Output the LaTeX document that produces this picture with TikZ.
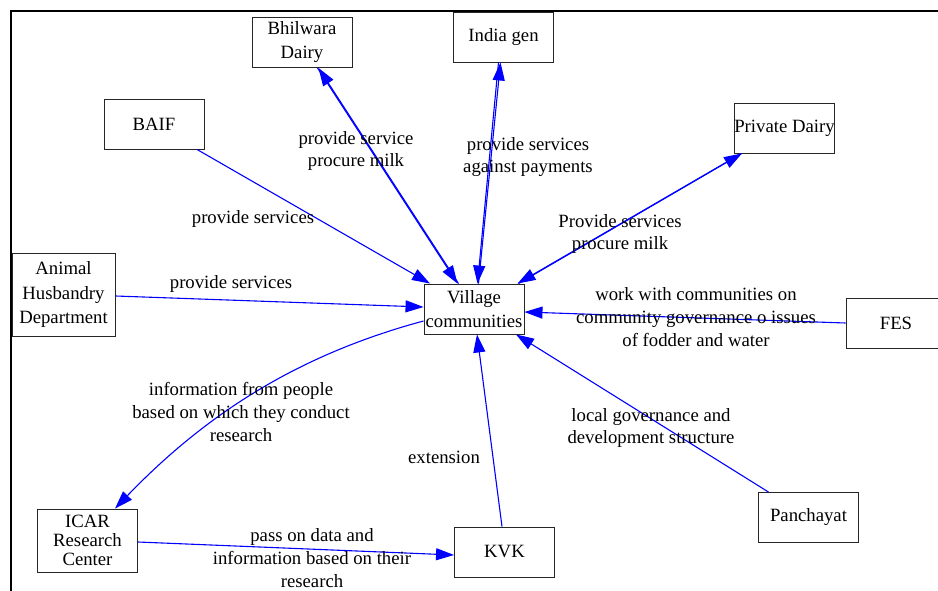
\documentclass[tikz,border=0pt]{standalone}
\usepackage{fontspec}
\setmainfont{Liberation Serif}
\usetikzlibrary{arrows.meta}

\begin{document}
\begin{tikzpicture}[
  x=1bp, y=-1bp,
  actor/.style={rectangle, draw=black!85, line width=0.9bp, minimum width=100bp,
                minimum height=50bp, inner sep=0pt, align=center,
                font=\fontsize{18.8}{24.5}\selectfont},
  note/.style={align=center, inner sep=0pt, font=\fontsize{18.8}{23}\selectfont},
  link/.style={-{Triangle[length=18bp,width=12bp]}, blue, line width=1.1bp}
]
\useasboundingbox (0,0) rectangle (938,591);
\draw[line width=2bp] (10.5,591) -- (10.5,11.5) -- (938,11.5);

% actors
\node[actor, text depth=5bp] (bd) at (302,42.5) {Bhilwara\\Dairy};
\node[actor] (ig) at (503.5,37) {India gen};
\node[actor] (baif) at (154,124) {BAIF};
\node[actor] (pd) at (784.5,128) {Private Dairy};
\node[actor, minimum height=83bp, minimum width=103bp] (ah) at (63.5,294.5) {Animal\\Husbandry\\Department};
\node[actor] (vc) at (474,309) {Village\\communities};
\node[actor] (fes) at (896,323) {FES};
\node[actor] (pan) at (808.5,517.5) {Panchayat};
\node[actor] (kvk) at (504.5,552) {KVK};
\node[actor, minimum height=63bp, font=\fontsize{18.8}{19}\selectfont] (icar) at (87.5,540.5) {ICAR\\Research\\Center};

% links
\draw[link] ([xshift=43bp]baif.south) -- ([xshift=-44bp]vc.north);
\draw[link] ([xshift=15.5bp]bd.south) -- ([xshift=-16.5bp]vc.north);
\draw[link] ([xshift=-15.5bp]vc.north) -- ([xshift=16.5bp]bd.south);
\draw[link] ([xshift=-5bp]ig.south) -- ([xshift=3.5bp]vc.north);
\draw[link] ([xshift=4.5bp]vc.north) -- ([xshift=-3bp]ig.south);
\draw[link] ([xshift=-43bp]pd.south) -- ([xshift=43.5bp]vc.north);
\draw[link] ([xshift=44.5bp]vc.north) -- ([xshift=-42.5bp]pd.south);
\draw[link] ([yshift=-1.5bp]ah.east) -- ([yshift=2bp]vc.west);
\draw[link] ([yshift=0bp]fes.west) -- ([yshift=-3bp]vc.east);
\draw[link] ([xshift=-40bp]pan.north) -- ([xshift=42bp]vc.south);
\draw[link] ([xshift=-2.5bp]kvk.north) -- ([xshift=3bp]vc.south);
\draw[link] ([yshift=-12bp]vc.west) .. controls (297,355) and (205,415) .. ([xshift=27.5bp]icar.north);
\draw[link] ([yshift=-1.5bp]icar.east) -- ([yshift=-3bp]kvk.west);

% link labels
\node[note] (baifl) at (253,219) {provide services};
\node[note] (bdl) at (356,151) {provide service\\procure milk};
\node[note] (igl) at (528,157) {provide services\\against payments};
\node[note] (pdl) at (620,234) {Provide services\\procure milk};
\node[note] (ahl) at (231,284) {provide services};
\node[note] (fesl) at (696,317) {work with communities on\\community governance o issues\\of fodder and water};
\node[note] (panl) at (651,428) {local governance and\\development structure};
\node[note] (kvkl) at (444,457) {extension};
\node[note] (icarl) at (241,412) {information from people\\based on which they conduct\\research};
\node[note] (datal) at (312,558) {pass on data and\\information based on their\\research};

\end{tikzpicture}
\end{document}
